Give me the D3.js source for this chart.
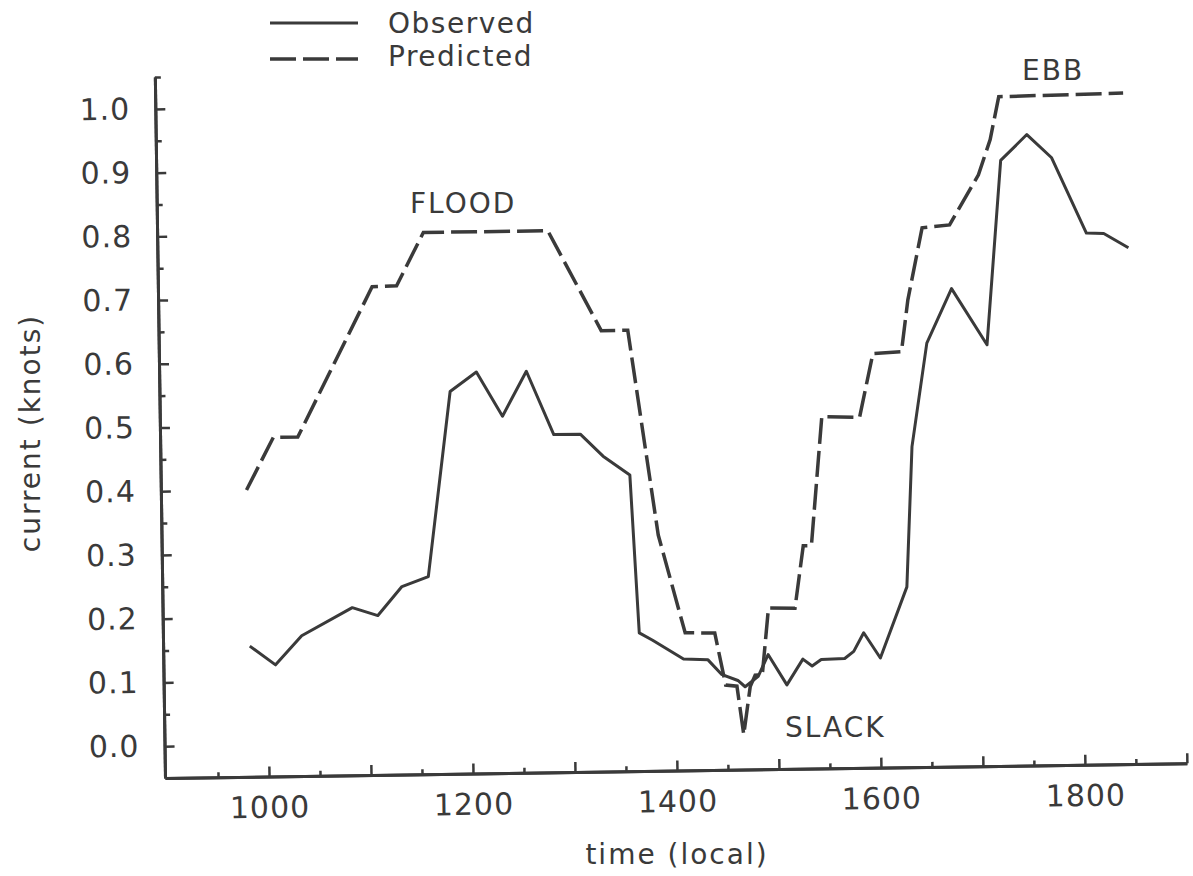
<!DOCTYPE html>
<html>
<head>
<meta charset="utf-8">
<script src="https://cdn.jsdelivr.net/npm/d3@7"></script>
<style>
  body { margin: 0; background: #fff; }
  svg text { font-family: "DejaVu Sans", sans-serif; fill: #3a3a3a; }
</style>
</head>
<body>
<div id="graf"></div>
<script>
// Observed current (knots) vs local time
const obsTime = [983, 1008, 1034, 1084, 1109, 1133, 1159, 1183, 1209, 1234, 1258, 1284, 1310, 1332, 1358,
  1365, 1378, 1408, 1432, 1445, 1461, 1468, 1481, 1491, 1509, 1525, 1534, 1543, 1566, 1575, 1585, 1601,
  1628, 1635, 1651, 1676, 1710, 1726, 1752, 1776, 1809, 1826, 1850]
const obsKnots = [0.155, 0.125, 0.17, 0.213, 0.2, 0.245, 0.26, 0.55, 0.58, 0.51, 0.58, 0.48, 0.48, 0.445, 0.415,
  0.167, 0.155, 0.125, 0.123, 0.1, 0.09, 0.08, 0.096, 0.13, 0.082, 0.122, 0.111, 0.121, 0.122, 0.133, 0.162, 0.122,
  0.233, 0.453, 0.615, 0.7, 0.611, 0.9, 0.94, 0.903, 0.784, 0.783, 0.76]

// Predicted current (knots)
const predTime = [982, 1009, 1033, 1108, 1132, 1159, 1281, 1332, 1358, 1385, 1410, 1439, 1449, 1460, 1466,
  1473, 1478, 1485, 1492, 1518, 1527, 1535, 1547, 1584, 1598, 1626, 1633, 1648, 1675, 1704, 1716, 1725, 1847]
const predKnots = [0.4, 0.482, 0.482, 0.716, 0.717, 0.8, 0.8, 0.642, 0.642, 0.32, 0.166, 0.165, 0.083, 0.081, 0.005,
  0.08, 0.098, 0.098, 0.203, 0.202, 0.3, 0.3, 0.502, 0.5, 0.6, 0.602, 0.683, 0.796, 0.8, 0.878, 0.933, 1.0, 1.003]

const xMajor = [1000, 1100, 1200, 1300, 1400, 1500, 1600, 1700, 1800, 1900]
const xMinor = [950, 1050, 1150, 1250, 1350, 1450, 1550, 1650, 1750, 1850]
const yMajor = [0, 0.1, 0.2, 0.3, 0.4, 0.5, 0.6, 0.7, 0.8, 0.9, 1.0]
const yMinor = [0.05, 0.15, 0.25, 0.35, 0.45, 0.55, 0.65, 0.75, 0.85, 0.95, 1.05]

const labels = [
  { text: "FLOOD", x: 410, y: 213 },
  { text: "EBB", x: 1022, y: 80 },
  { text: "SLACK", x: 785, y: 737 }
]

const draw = () => {
  const anchoTotal = 1193
  const altoTotal = 876
  const ink = "#3a3a3a"

  const svg = d3.select("#graf")
    .append("svg")
    .attr("width", anchoTotal)
    .attr("height", altoTotal)

  // the scanned page is a little tilted
  const chart = svg.append("g")
    .attr("transform", "translate(165, 778) rotate(-0.83)")

  const x = d3.scaleLinear().domain([898, 1900]).range([0, 1022])
  const y = d3.scaleLinear().domain([-0.05, 1.05]).range([0, -701])

  // Ejes
  const styleAxis = (g) => {
    g.select(".domain").attr("stroke", ink).attr("stroke-width", 3)
    g.selectAll(".tick line").attr("stroke", ink).attr("stroke-width", 2.5)
    g.selectAll("text")
      .attr("fill", ink)
      .style("font-family", "'DejaVu Sans', sans-serif")
      .style("font-size", "30px")
      .style("letter-spacing", "1px")
  }

  chart.append("g")
    .call(d3.axisBottom(x).tickValues(xMinor).tickSize(-5).tickSizeOuter(0).tickFormat(""))
    .call(styleAxis)
  chart.append("g")
    .call(d3.axisBottom(x).tickValues(xMajor).tickSize(-10).tickSizeOuter(0)
      .tickPadding(20).tickFormat((d) => (d % 200 === 0 ? d : "")))
    .call(styleAxis)

  chart.append("g")
    .call(d3.axisLeft(y).tickValues(yMinor).tickSize(-6).tickSizeOuter(0).tickFormat(""))
    .call(styleAxis)
  chart.append("g")
    .call(d3.axisLeft(y).tickValues(yMajor).tickSize(-10).tickSizeOuter(0)
      .tickPadding(25).tickFormat(d3.format(".1f")))
    .call(styleAxis)

  // Lineas
  const observed = obsTime.map((t, i) => ({ t, v: obsKnots[i] }))
  const predicted = predTime.map((t, i) => ({ t, v: predKnots[i] }))
  const line = d3.line().x((d) => x(d.t)).y((d) => y(d.v))

  chart.append("path")
    .datum(observed)
    .attr("d", line)
    .attr("fill", "none")
    .attr("stroke", ink)
    .attr("stroke-width", 3)
    .attr("stroke-linejoin", "round")

  chart.append("path")
    .datum(predicted)
    .attr("d", line)
    .attr("fill", "none")
    .attr("stroke", ink)
    .attr("stroke-width", 3.5)
    .attr("stroke-dasharray", "26,7")

  // Titulos de ejes
  svg.append("text")
    .attr("x", 677)
    .attr("y", 864)
    .attr("text-anchor", "middle")
    .style("font-size", "28px")
    .style("letter-spacing", "2px")
    .text("time (local)")

  svg.append("text")
    .attr("transform", "translate(40, 433) rotate(-90)")
    .attr("text-anchor", "middle")
    .style("font-size", "28px")
    .style("letter-spacing", "2px")
    .text("current (knots)")

  // Anotaciones
  svg.selectAll(".label")
    .data(labels)
    .join("text")
    .attr("class", "label")
    .attr("x", (d) => d.x)
    .attr("y", (d) => d.y)
    .style("font-size", "28px")
    .style("letter-spacing", "2px")
    .text((d) => d.text)

  // Leyenda
  const legend = svg.append("g")
  legend.append("line")
    .attr("x1", 270).attr("x2", 358).attr("y1", 23).attr("y2", 23)
    .attr("stroke", ink).attr("stroke-width", 3)
  legend.append("line")
    .attr("x1", 270).attr("x2", 358).attr("y1", 59).attr("y2", 59)
    .attr("stroke", ink).attr("stroke-width", 3.5).attr("stroke-dasharray", "26,7")
  legend.append("text")
    .attr("x", 388).attr("y", 33)
    .style("font-size", "28px").style("letter-spacing", "1.5px")
    .text("Observed")
  legend.append("text")
    .attr("x", 388).attr("y", 66)
    .style("font-size", "28px").style("letter-spacing", "1.5px")
    .text("Predicted")
}

draw()
</script>
</body>
</html>
